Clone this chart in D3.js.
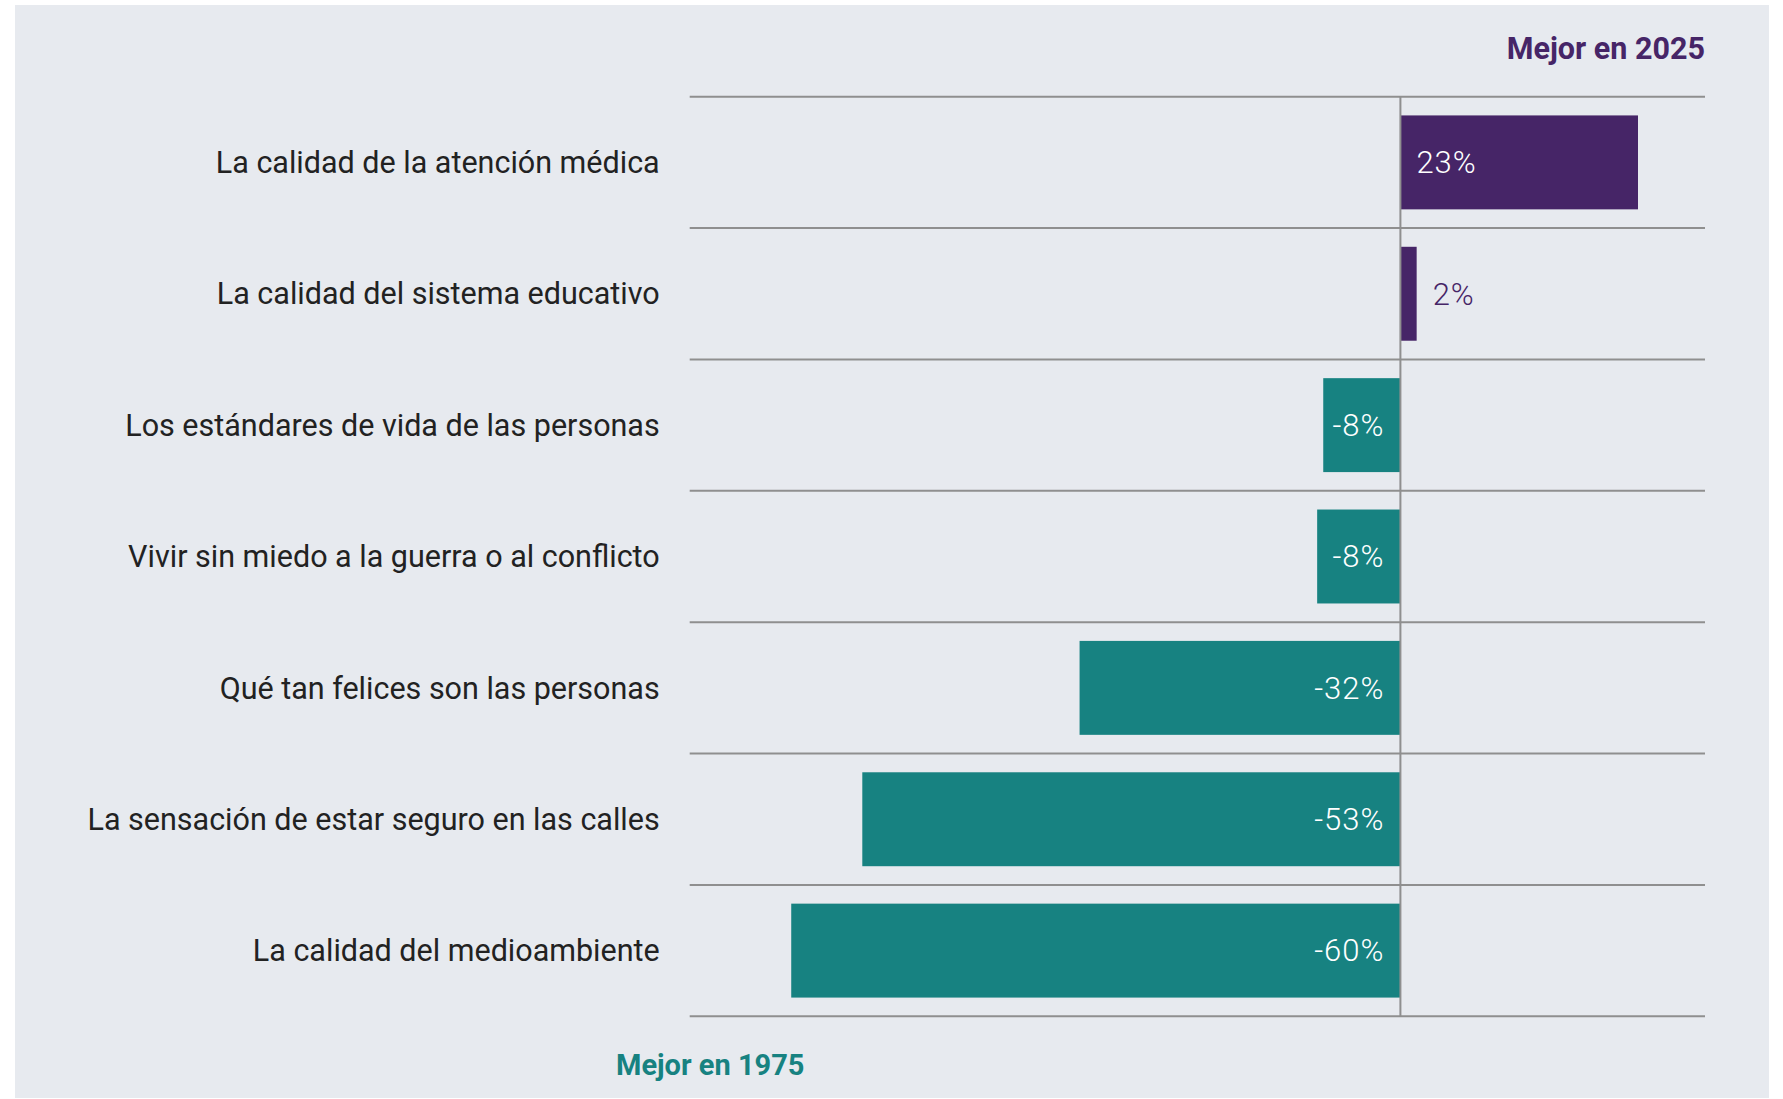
<!DOCTYPE html>
<html>
<head>
<meta charset="utf-8">
<script src="https://cdn.jsdelivr.net/npm/d3@7"></script>
<style>
  body { margin: 0; background: #ffffff; }
  svg { display: block; font-family: Roboto, "Noto Sans", sans-serif; }
</style>
</head>
<body>
<div id="chart"></div>
<script>
// data
const categories = [
    "La calidad de la atención médica",
    "La calidad del sistema educativo",
    "Los estándares de vida de las personas",
    "Vivir sin miedo a la guerra o al conflicto",
    "Qué tan felices son las personas",
    "La sensación de estar seguro en las calles",
    "La calidad del medioambiente"
]
const changes = [23.4, 1.6, -7.6, -8.2, -31.6, -53, -60]
const xTicks = [-70, 30]
const topLabel = "Mejor en 2025"
const bottomLabel = "Mejor en 1975"

const data = categories.map((c, i) => ({ name: c, value: changes[i] }))

const W = 1783, H = 1099
const margin = { top: 96.7, right: 78, bottom: 82.7, left: 689.7 }
const width = W - margin.left - margin.right
const height = H - margin.top - margin.bottom

const purple = "#462567", teal = "#178281", grid = "#8f8f8f"

const svg = d3.select("#chart").append("svg")
    .attr("width", W)
    .attr("height", H)

// panel background
svg.append("rect")
    .attr("x", 15).attr("y", 5)
    .attr("width", 1754).attr("height", 1093)
    .attr("fill", "#e7eaef")

const g = svg.append("g")
    .attr("transform", `translate(${margin.left},${margin.top})`)

const xScale = d3.scaleLinear()
    .domain(d3.extent(xTicks))
    .range([0, width])

const yScale = d3.scaleBand()
    .domain(categories)
    .range([0, height])
    .paddingInner(0.285)
    .paddingOuter(0.1425)

const step = yScale.step()
const bounds = categories.map(c => yScale(c) - step * yScale.paddingInner() / 2)
bounds.push(height)

// horizontal rules between rows
g.selectAll(".rule")
    .data(bounds)
    .join("line")
    .attr("class", "rule")
    .attr("x1", 0).attr("x2", width)
    .attr("y1", d => d).attr("y2", d => d)
    .attr("stroke", grid)
    .attr("stroke-width", 2)

// bars
g.selectAll(".bar")
    .data(data)
    .join("rect")
    .attr("class", "bar")
    .attr("x", d => xScale(Math.min(0, d.value)))
    .attr("width", d => Math.abs(xScale(d.value) - xScale(0)))
    .attr("y", d => yScale(d.name))
    .attr("height", yScale.bandwidth())
    .attr("fill", d => d.value >= 0 ? purple : teal)

// zero line
g.append("line")
    .attr("x1", xScale(0)).attr("x2", xScale(0))
    .attr("y1", 0).attr("y2", height)
    .attr("stroke", grid)
    .attr("stroke-width", 2)

// category labels
g.selectAll(".cat")
    .data(data)
    .join("text")
    .attr("class", "cat")
    .attr("x", -30)
    .attr("y", d => yScale(d.name) + yScale.bandwidth() / 2)
    .attr("dy", "0.35em")
    .attr("text-anchor", "end")
    .attr("font-size", 30.5)
    .attr("fill", "#222222")
    .text(d => d.name)

// value labels
const fmt = v => Math.round(v) + "%"
g.selectAll(".val")
    .data(data)
    .join("text")
    .attr("class", "val")
    .attr("y", d => yScale(d.name) + yScale.bandwidth() / 2)
    .attr("dy", "0.35em")
    .attr("font-size", 31)
    .attr("font-weight", 300)
    .attr("letter-spacing", 1)
    .each(function(d) {
        const t = d3.select(this)
        const barW = Math.abs(xScale(d.value) - xScale(0))
        if (d.value >= 0) {
            if (barW > 80) {
                t.attr("x", xScale(0) + 16).attr("text-anchor", "start").attr("fill", "#ffffff")
            } else {
                t.attr("x", xScale(d.value) + 16).attr("text-anchor", "start").attr("fill", purple)
            }
        } else {
            t.attr("x", xScale(0) - 16).attr("text-anchor", "end").attr("fill", "#ffffff")
        }
    })
    .text(d => fmt(d.value))

// direction labels
g.append("text")
    .attr("x", width)
    .attr("y", -38)
    .attr("text-anchor", "end")
    .attr("font-size", 30.5)
    .attr("font-weight", 700)
    .attr("fill", purple)
    .text(topLabel)

svg.append("text")
    .attr("x", 616)
    .attr("y", 1075)
    .attr("text-anchor", "start")
    .attr("font-size", 29)
    .attr("font-weight", 700)
    .attr("fill", teal)
    .text(bottomLabel)
</script>
</body>
</html>
